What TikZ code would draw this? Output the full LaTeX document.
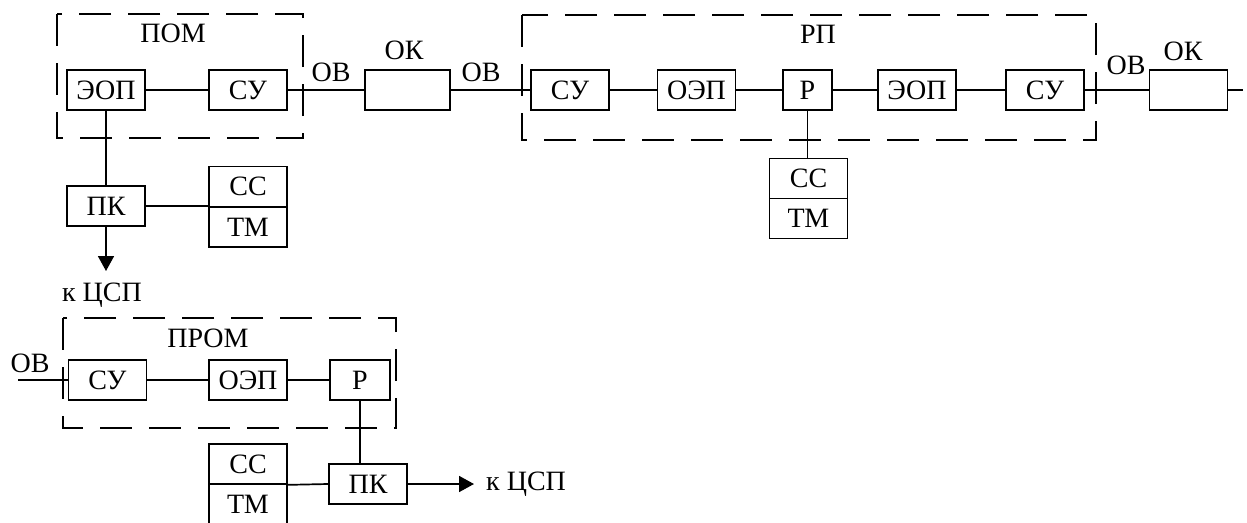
\documentclass[tikz,border=0pt]{standalone}
\usepackage{fontspec}
\setmainfont{Liberation Serif}
\usetikzlibrary{arrows.meta,positioning}

\begin{document}
\begin{tikzpicture}[x=1pt,y=-1pt,
  blk/.style={draw,line width=1.7pt,minimum width=78pt,minimum height=40pt,
    inner sep=0pt,font=\fontsize{28}{30}\selectfont},
  lbl/.style={inner sep=0pt,font=\fontsize{28}{30}\selectfont},
  grp/.style={line width=1.7pt,dash pattern=on 32pt off 17pt},
  wire/.style={line width=1.7pt},
  outarr/.style={line width=1.7pt,-{Triangle[length=15pt,width=16pt]}}
]
  \useasboundingbox (0,0) rectangle (1247,522);

  % group frames
  \draw[grp] (57,14) rectangle (303,138);
  \draw[grp] (522,15) rectangle (1096,140);
  \draw[grp] (63,318) rectangle (396,428);
  \node[lbl] (pomlbl) at (173,33) {ПОМ};
  \node[lbl] (rplbl) at (818,34) {РП};
  \node[lbl] (promlbl) at (208,338) {ПРОМ};

  % transmitter
  \node[blk] (eop1) at (106,90) {ЭОП};
  \node[blk] (su1) at (248,90) {СУ};
  \node[blk] (pk1) at (106,206) {ПК};
  \node[blk] (cc1) at (248,186.5) {СС};
  \node[blk] (tm1) at (248,227) {ТМ};
  \coordinate (tsp1) at (106,271);
  \node[lbl] (tsp1lbl) at (102,295) {к ЦСП};

  % fibre line
  \node[blk,minimum width=85pt] (ok1) at (407.5,90) {};
  \node[lbl] (ok1lbl) at (404,50) {ОК};
  \node[lbl] (ov1) at (331,72) {ОВ};
  \node[lbl] (ov2) at (481,72) {ОВ};

  % repeater
  \node[blk] (su2) at (570,90) {СУ};
  \node[blk] (oep1) at (696.5,90) {ОЭП};
  \node[blk,minimum width=49pt] (r1) at (807.5,90) {Р};
  \node[blk] (eop2) at (917,90) {ЭОП};
  \node[blk] (su3) at (1045,90) {СУ};
  \node[blk] (cc2) at (808.5,178.5) {СС};
  \node[blk] (tm2) at (808.5,218.5) {ТМ};

  % next span
  \node[lbl] (ov3) at (1126,65) {ОВ};
  \node[blk] (ok2) at (1188.5,90) {};
  \node[lbl] (ok2lbl) at (1183,51) {ОК};
  \coordinate (lineend) at (1243,90);

  % receiver
  \coordinate (linein) at (18,380);
  \node[lbl] (ov4) at (30,363) {ОВ};
  \node[blk] (su4) at (107.5,380) {СУ};
  \node[blk] (oep2) at (248,380) {ОЭП};
  \node[blk,minimum width=60pt] (r2) at (360,380) {Р};
  \node[blk] (pk2) at (368,484) {ПК};
  \node[blk] (cc3) at (248,464) {СС};
  \node[blk] (tm3) at (248,504) {ТМ};
  \coordinate (tsp2) at (474,484);
  \node[lbl,anchor=west] (tsp2lbl) at (486,484) {к ЦСП};

  % connections
  \draw[wire] (eop1) -- (su1);
  \draw[wire] (su1) -- (ok1);
  \draw[wire] (ok1) -- (su2);
  \draw[wire] (su2) -- (oep1);
  \draw[wire] (oep1) -- (r1);
  \draw[wire] (r1) -- (eop2);
  \draw[wire] (eop2) -- (su3);
  \draw[wire] (su3) -- (ok2);
  \draw[wire] (ok2) -- (lineend);
  \draw[wire] (eop1) -- (pk1);
  \draw[wire] (pk1.east) -- (pk1.east -| cc1.west);
  \draw[outarr] (pk1) -- (tsp1);
  \draw[wire] (r1) -- (r1.south |- cc2.north);
  \draw[wire] (linein) -- (su4);
  \draw[wire] (su4) -- (oep2);
  \draw[wire] (oep2) -- (r2);
  \draw[wire] (r2.south) -- (r2.south |- pk2.north);
  \draw[wire] (cc3.south east) -- (pk2.west);
  \draw[outarr] (pk2) -- (tsp2);
\end{tikzpicture}
\end{document}
